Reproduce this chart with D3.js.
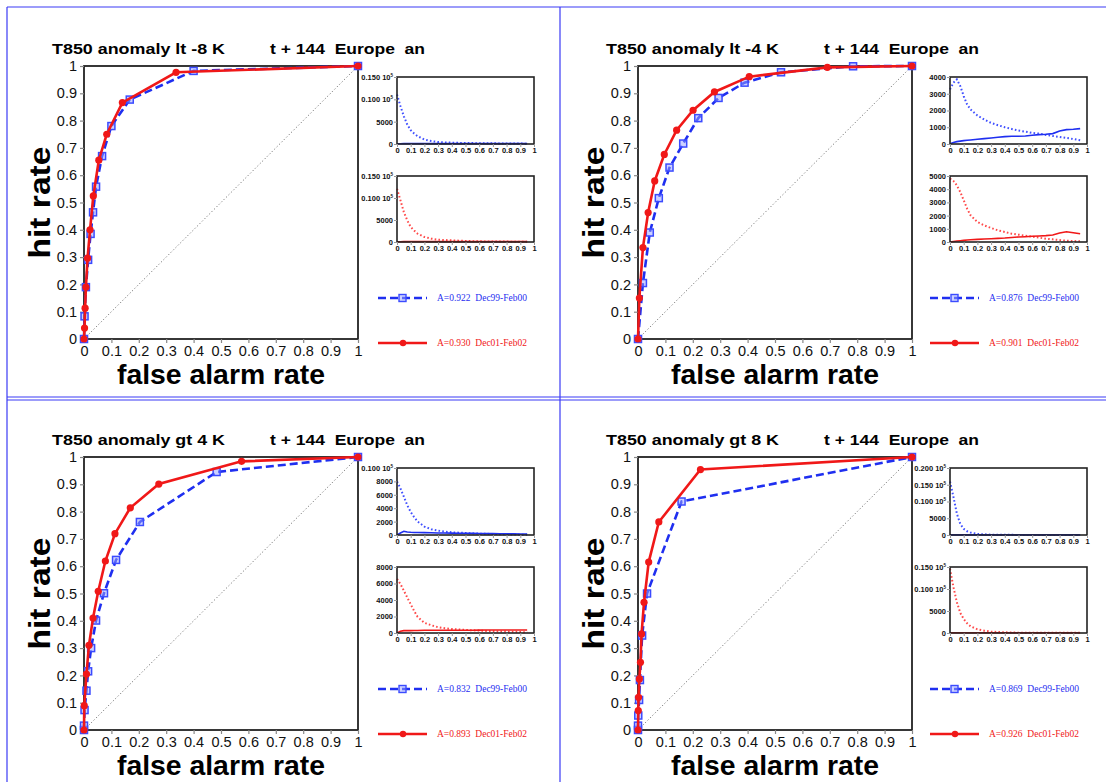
<!DOCTYPE html>
<html><head><meta charset="utf-8">
<script src="https://cdn.jsdelivr.net/npm/d3@7"></script>
<style>
body{margin:0;background:#fff;}
svg text{white-space:pre;}
</style></head>
<body><svg id="c" width="1106" height="782"></svg>
<script>
// ---------- DATA ----------
const titles = ["T850 anomaly lt -8 K","T850 anomaly lt -4 K","T850 anomaly gt 4 K","T850 anomaly gt 8 K"];
const subtitle = "t + 144  Europe  an";
const legendBlue = ["A=0.922  Dec99-Feb00","A=0.876  Dec99-Feb00","A=0.832  Dec99-Feb00","A=0.869  Dec99-Feb00"];
const legendRed  = ["A=0.930  Dec01-Feb02","A=0.901  Dec01-Feb02","A=0.893  Dec01-Feb02","A=0.926  Dec01-Feb02"];
const rocTicks = [0,0.1,0.2,0.3,0.4,0.5,0.6,0.7,0.8,0.9,1];
const rocTickLabels = ["0","0.1","0.2","0.3","0.4","0.5","0.6","0.7","0.8","0.9","1"];

// ROC curves (false alarm rate, hit rate)
const p1BlueFar = [0,0.002,0.007,0.015,0.024,0.033,0.044,0.066,0.1,0.167,0.4,1];
const p1BlueHit = [0,0.083,0.19,0.29,0.385,0.464,0.558,0.67,0.78,0.877,0.982,1];
const p1RedFar  = [0,0.002,0.004,0.007,0.013,0.022,0.034,0.054,0.083,0.14,0.336,1];
const p1RedHit  = [0,0.04,0.113,0.19,0.296,0.4,0.524,0.655,0.75,0.866,0.977,1];

const p2BlueFar = [0,0.018,0.043,0.076,0.115,0.165,0.22,0.294,0.389,0.522,0.785,1];
const p2BlueHit = [0,0.205,0.39,0.516,0.628,0.716,0.809,0.883,0.939,0.977,0.999,1];
const p2RedFar  = [0,0.005,0.018,0.037,0.061,0.096,0.141,0.201,0.279,0.406,0.691,1];
const p2RedHit  = [0,0.15,0.335,0.463,0.579,0.676,0.765,0.838,0.905,0.961,0.995,1];

const p3BlueFar = [0,0,0.002,0.009,0.015,0.026,0.044,0.073,0.117,0.204,0.484,1];
const p3BlueHit = [0,0.016,0.073,0.144,0.215,0.3,0.401,0.501,0.623,0.762,0.945,1];
const p3RedFar  = [0,0.001,0.009,0.018,0.033,0.052,0.078,0.113,0.169,0.273,0.575,1];
const p3RedHit  = [0,0.089,0.205,0.31,0.41,0.508,0.619,0.719,0.814,0.901,0.984,1];

const p4BlueFar = [0,0,0.001,0.004,0.007,0.015,0.033,0.159,1];
const p4BlueHit = [0,0.016,0.053,0.11,0.183,0.346,0.5,0.837,1];
const p4RedFar  = [0,0.001,0.002,0.005,0.009,0.013,0.022,0.039,0.076,0.228,1];
const p4RedHit  = [0,0.071,0.12,0.187,0.248,0.352,0.468,0.615,0.762,0.954,1];

// inset distributions (probability on x)
const insetX = [0,0.025,0.05,0.075,0.1,0.125,0.15,0.2,0.25,0.3,0.35,0.4,0.45,0.5,0.55,0.6,0.65,0.7,0.75,0.8,0.85,0.9,0.95];
const insetTicks = [0,0.1,0.2,0.3,0.4,0.5,0.6,0.7,0.8,0.9,1];

const p1BlueDot = [11100,8500,6200,4350,3100,2350,1750,1000,650,450,350,300,250,220,200,180,160,150,130,110,100,90,80];
const p1BlueSol = [60,70,80,80,80,80,80,80,80,80,80,80,80,80,80,80,80,80,80,80,80,80,80];
const p1RedDot  = [12100,9500,6800,4900,3400,2600,1900,1150,760,530,450,380,300,230,190,150,130,110,100,90,80,75,75];
const p1RedSol  = [60,70,80,80,80,80,80,80,80,80,80,80,80,80,80,80,80,80,80,80,80,80,80];

const p2BlueDot = [3260,3660,3860,3460,2860,2360,2060,1700,1460,1260,1120,1000,900,800,740,660,620,540,480,420,360,300,220];
const p2BlueSol = [20,90,140,170,200,220,240,280,320,360,400,440,460,460,480,520,560,580,620,780,860,880,920];
const p2RedDot  = [4800,4620,4290,3790,3160,2525,2020,1515,1260,1060,880,760,630,555,480,400,330,250,200,150,100,75,50];
const p2RedSol  = [0,40,75,100,125,150,175,200,225,250,275,300,340,380,400,430,455,480,530,680,780,700,630];

const p3BlueDot = [7980,6970,5710,4440,3430,2680,2020,1260,860,660,505,400,350,300,250,200,175,150,125,100,75,50,50];
const p3BlueSol = [0,300,555,450,400,380,370,350,330,300,290,280,260,250,240,230,210,200,190,180,170,160,150];
const p3RedDot  = [6560,5950,5130,4300,3490,2670,1970,1230,940,700,575,490,430,370,330,290,250,205,185,165,145,125,80];
const p3RedSol  = [0,205,290,290,290,300,310,330,330,330,330,330,330,330,340,350,360,370,370,370,370,370,370];

const p4BlueDot = [15960,11410,6360,3330,1820,1110,710,300,200,100,60,50,40,30,30,30,30,30,30,30,30,30,30];
const p4BlueSol = [30,30,30,30,30,30,30,30,30,30,30,30,30,30,30,30,30,30,30,30,30,30,30];
const p4RedDot  = [14620,10430,7000,4570,3200,2210,1520,840,530,300,230,150,110,80,75,75,75,75,75,75,75,75,75];
const p4RedSol  = [40,40,40,40,40,40,40,40,40,40,40,40,40,40,40,40,40,40,40,40,40,40,40];

// inset y ranges and tick labels
const p1UpperTicks = [0,5000,10000,15000], p1UpperLabels = ["0","5000","0.100 10|5","0.150 10|5"];
const p1LowerTicks = [0,5000,10000,15000], p1LowerLabels = ["0","5000","0.100 10|5","0.150 10|5"];
const p2UpperTicks = [0,1000,2000,3000,4000], p2UpperLabels = ["0","1000","2000","3000","4000"];
const p2LowerTicks = [0,1000,2000,3000,4000,5000], p2LowerLabels = ["0","1000","2000","3000","4000","5000"];
const p3UpperTicks = [0,2000,4000,6000,8000,10000], p3UpperLabels = ["0","2000","4000","6000","8000","0.100 10|5"];
const p3LowerTicks = [0,2000,4000,6000,8000], p3LowerLabels = ["0","2000","4000","6000","8000"];
const p4UpperTicks = [0,5000,10000,15000,20000], p4UpperLabels = ["0","5000","0.100 10|5","0.150 10|5","0.200 10|5"];
const p4LowerTicks = [0,5000,10000,15000], p4LowerLabels = ["0","5000","0.100 10|5","0.150 10|5"];

// ---------- BUILD ----------
const BLUE = "#1f2ff0", RED = "#f01818";
const panels = [
 {ox:0,oy:0,bf:p1BlueFar,bh:p1BlueHit,rf:p1RedFar,rh:p1RedHit,bd:p1BlueDot,bs:p1BlueSol,rd:p1RedDot,rs:p1RedSol,ut:p1UpperTicks,ul:p1UpperLabels,lt:p1LowerTicks,ll:p1LowerLabels},
 {ox:554,oy:0,bf:p2BlueFar,bh:p2BlueHit,rf:p2RedFar,rh:p2RedHit,bd:p2BlueDot,bs:p2BlueSol,rd:p2RedDot,rs:p2RedSol,ut:p2UpperTicks,ul:p2UpperLabels,lt:p2LowerTicks,ll:p2LowerLabels},
 {ox:0,oy:391,bf:p3BlueFar,bh:p3BlueHit,rf:p3RedFar,rh:p3RedHit,bd:p3BlueDot,bs:p3BlueSol,rd:p3RedDot,rs:p3RedSol,ut:p3UpperTicks,ul:p3UpperLabels,lt:p3LowerTicks,ll:p3LowerLabels},
 {ox:554,oy:391,bf:p4BlueFar,bh:p4BlueHit,rf:p4RedFar,rh:p4RedHit,bd:p4BlueDot,bs:p4BlueSol,rd:p4RedDot,rs:p4RedSol,ut:p4UpperTicks,ul:p4UpperLabels,lt:p4LowerTicks,ll:p4LowerLabels}
];

const svg = d3.select("#c");
const FONT = "'Liberation Sans', Arial, Helvetica, sans-serif";

// outer frames
const frame = svg.append("g").attr("stroke","#3a3af5").attr("fill","none").attr("stroke-width",1.2);
frame.append("line").attr("x1",7).attr("y1",7).attr("x2",1106).attr("y2",7);
frame.append("line").attr("x1",7).attr("y1",7).attr("x2",7).attr("y2",782);
frame.append("line").attr("x1",560).attr("y1",7).attr("x2",560).attr("y2",782);
frame.append("line").attr("x1",7).attr("y1",397).attr("x2",1106).attr("y2",397);
frame.append("line").attr("x1",7).attr("y1",400).attr("x2",1106).attr("y2",400);

function addLabel(sel, txt){
  const parts = txt.split("|");
  sel.text(parts[0]);
  if(parts.length>1){
    sel.append("tspan").attr("dy",-3).attr("font-size",4.5).text(parts[1]);
  }
}

panels.forEach((p,i)=>{
  const g = svg.append("g").attr("transform",`translate(${p.ox},${p.oy})`);
  const x = d3.scaleLinear().domain([0,1]).range([84,358]);
  const y = d3.scaleLinear().domain([0,1]).range([339,66]);

  // titles
  g.append("text").attr("x",52).attr("y",54).attr("font-family",FONT).attr("font-weight","bold")
    .attr("font-size",14.5).attr("textLength",173).attr("lengthAdjust","spacingAndGlyphs").text(titles[i]);
  g.append("text").attr("x",270).attr("y",54).attr("font-family",FONT).attr("font-weight","bold")
    .attr("font-size",14.5).attr("textLength",155).attr("lengthAdjust","spacingAndGlyphs").text(subtitle);

  // axis titles
  g.append("text").attr("transform",`translate(50,${(66+339)/2}) rotate(-90)`).attr("text-anchor","middle")
    .attr("font-family",FONT).attr("font-weight","bold").attr("font-size",30)
    .attr("textLength",112).attr("lengthAdjust","spacingAndGlyphs").text("hit rate");
  g.append("text").attr("x",221).attr("y",384).attr("text-anchor","middle")
    .attr("font-family",FONT).attr("font-weight","bold").attr("font-size",28)
    .attr("textLength",208).attr("lengthAdjust","spacingAndGlyphs").text("false alarm rate");

  // plot box
  g.append("rect").attr("x",84).attr("y",66).attr("width",274).attr("height",273)
    .attr("fill","none").attr("stroke","#222").attr("stroke-width",1.8);

  // axes
  const ax = d3.axisBottom(x).tickValues(rocTicks).tickFormat((d,k)=>rocTickLabels[k]).tickSize(4).tickPadding(3);
  const ay = d3.axisLeft(y).tickValues(rocTicks).tickFormat((d,k)=>rocTickLabels[k]).tickSize(4).tickPadding(3);
  const gx = g.append("g").attr("transform","translate(0,339)").call(ax);
  const gy = g.append("g").attr("transform","translate(84,0)").call(ay);
  [gx,gy].forEach(a=>{
    a.select(".domain").remove();
    a.selectAll("line").attr("stroke","#888").attr("stroke-width",1.2);
    a.selectAll("text").attr("font-family",FONT).attr("font-size",14.5).attr("fill","#111");
  });

  // diagonal
  g.append("line").attr("x1",x(0)).attr("y1",y(0)).attr("x2",x(1)).attr("y2",y(1))
    .attr("stroke","#777").attr("stroke-width",1).attr("stroke-dasharray","1.2,2.2");

  const line = d3.line().x(d=>x(d[0])).y(d=>y(d[1]));
  const bpts = p.bf.map((v,k)=>[v,p.bh[k]]);
  const rpts = p.rf.map((v,k)=>[v,p.rh[k]]);

  g.append("path").attr("d",line(bpts)).attr("fill","none").attr("stroke",BLUE)
    .attr("stroke-width",2.6).attr("stroke-dasharray","8,4");
  g.selectAll(".bm").data(bpts).enter().append("rect").attr("class","bm")
    .attr("x",d=>x(d[0])-3.5).attr("y",d=>y(d[1])-3.5).attr("width",7).attr("height",7)
    .attr("fill","#9aa3ff").attr("fill-opacity",0.5).attr("stroke","#3b4bff").attr("stroke-width",1.5);
  g.append("path").attr("d",line(rpts)).attr("fill","none").attr("stroke",RED).attr("stroke-width",2.6);
  g.selectAll(".rm").data(rpts).enter().append("circle").attr("class","rm")
    .attr("cx",d=>x(d[0])).attr("cy",d=>y(d[1])).attr("r",3.6).attr("fill",RED);

  // insets
  const insets = [
    {top:77,bot:144,dot:p.bd,sol:p.bs,ticks:p.ut,labels:p.ul,col:BLUE,dcol:"#4050ff"},
    {top:176,bot:242,dot:p.rd,sol:p.rs,ticks:p.lt,labels:p.ll,col:RED,dcol:"#ff4a4a"}
  ];
  const ix0 = i%2===0 ? 397 : 396;
  insets.forEach(ins=>{
    const sx = d3.scaleLinear().domain([0,1]).range([ix0,ix0+137]);
    const sy = d3.scaleLinear().domain([0,d3.max(ins.ticks)]).range([ins.bot,ins.top]);
    const il = d3.line().x((d,k)=>sx(insetX[k])).y(d=>sy(d));
    g.append("path").attr("d",il(ins.dot)).attr("fill","none").attr("stroke",ins.dcol)
      .attr("stroke-width",2).attr("stroke-dasharray","1.6,2.2");
    g.append("path").attr("d",il(ins.sol)).attr("fill","none").attr("stroke",ins.col).attr("stroke-width",1.6);
    g.append("rect").attr("x",ix0).attr("y",ins.top).attr("width",137).attr("height",ins.bot-ins.top)
      .attr("fill","none").attr("stroke","#222").attr("stroke-width",1.6);
    const iax = d3.axisBottom(sx).tickValues(insetTicks).tickFormat(d=>d===0?"0":d===1?"1":d3.format(".1f")(d)).tickSize(3).tickPadding(1);
    const iay = d3.axisLeft(sy).tickValues(ins.ticks).tickFormat("").tickSize(3);
    const gix = g.append("g").attr("transform",`translate(0,${ins.bot})`).call(iax);
    const giy = g.append("g").attr("transform",`translate(${ix0},0)`).call(iay);
    [gix,giy].forEach(a=>{
      a.select(".domain").remove();
      a.selectAll("line").attr("stroke","#999").attr("stroke-width",1);
      a.selectAll("text").attr("font-family",FONT).attr("font-size",7.5).attr("font-weight","bold").attr("fill","#111");
    });
    giy.selectAll(".tick").each(function(d,k){
      const t = d3.select(this).append("text").attr("x",-4).attr("dy","0.32em").attr("text-anchor","end")
        .attr("font-family",FONT).attr("font-size",7.5).attr("font-weight","bold").attr("fill","#111");
      addLabel(t, ins.labels[k]);
    });
  });

  // legend
  const lx0 = i%2===0 ? 378 : 376;
  g.append("line").attr("x1",lx0).attr("x2",lx0+49).attr("y1",298).attr("y2",298)
    .attr("stroke",BLUE).attr("stroke-width",2.4).attr("stroke-dasharray","8,4");
  g.append("rect").attr("x",lx0+21).attr("y",294.5).attr("width",7).attr("height",7)
    .attr("fill","#9aa3ff").attr("fill-opacity",0.5).attr("stroke","#3b4bff").attr("stroke-width",1.4);
  g.append("text").attr("x",lx0+59).attr("y",301).attr("font-family","'Liberation Serif','Times New Roman',serif")
    .attr("font-size",9.5).attr("fill",BLUE).attr("textLength",90).attr("lengthAdjust","spacingAndGlyphs").text(legendBlue[i]);
  g.append("line").attr("x1",lx0).attr("x2",lx0+49).attr("y1",343).attr("y2",343)
    .attr("stroke",RED).attr("stroke-width",2.4);
  g.append("circle").attr("cx",lx0+25).attr("cy",343).attr("r",3.2).attr("fill",RED);
  g.append("text").attr("x",lx0+59).attr("y",346).attr("font-family","'Liberation Serif','Times New Roman',serif")
    .attr("font-size",9.5).attr("fill",RED).attr("textLength",90).attr("lengthAdjust","spacingAndGlyphs").text(legendRed[i]);
});
</script></body></html>
